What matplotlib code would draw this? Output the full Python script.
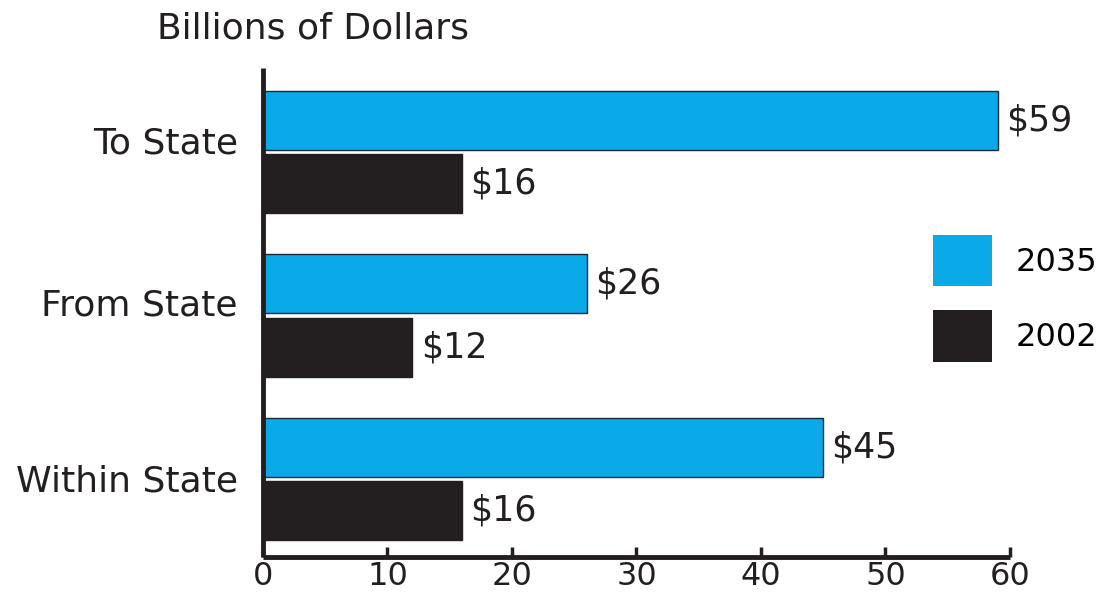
import numpy as np
import matplotlib
matplotlib.use('Agg')
import matplotlib.pyplot as plt
from matplotlib.patches import Patch
from matplotlib.transforms import ScaledTranslation

# freight value by flow direction, billions of dollars
categories = ['To State', 'From State', 'Within State']
values_2035 = [59, 26, 45]
values_2002 = [16, 12, 16]
series_names = ['2035', '2002']
x_ticks = [0, 10, 20, 30, 40, 50, 60]

BLUE = '#0AAAE8'
DARK = '#231F20'

plt.rcParams['font.family'] = ['DejaVu Sans']

fig = plt.figure(figsize=(11.05, 5.98), dpi=100)
ax = fig.add_axes([0.238, 0.0686, 0.676, 0.8177])

# top category drawn at the top
y = np.arange(len(categories))[::-1]
h = 0.36
off = 0.195

bars_new = ax.barh(y + off, values_2035, height=h, color=BLUE, edgecolor='#1a2a3a', linewidth=1)
bars_old = ax.barh(y - off, values_2002, height=h, color=DARK, edgecolor=DARK, linewidth=1)

for bars, vals in ((bars_new, values_2035), (bars_old, values_2002)):
    for b, v in zip(bars, vals):
        ax.annotate('$%d' % v, (v, b.get_y() + b.get_height() / 2),
                    xytext=(6, 0), textcoords='offset points',
                    ha='left', va='center', fontsize=25, color=DARK)

ax.set_xlim(0, 60)
ax.set_ylim(-0.477, 2.514)
ax.set_xticks(x_ticks)
ax.set_xticklabels([str(t) for t in x_ticks])
ax.set_yticks(y)
ax.set_yticklabels(categories)

for side in ('top', 'right'):
    ax.spines[side].set_visible(False)
for side in ('left', 'bottom'):
    ax.spines[side].set_linewidth(3.5)
    ax.spines[side].set_color(DARK)
    ax.spines[side].set_capstyle('butt')

ax.tick_params(axis='x', direction='in', length=7, width=2.5, colors=DARK,
               labelsize=23, pad=3)
ax.tick_params(axis='y', length=0, labelsize=26, pad=18, colors=DARK)

# nudge the category names up a little
for lbl, dy in zip(ax.get_yticklabels(), [9, 10, 1]):
    lbl.set_transform(lbl.get_transform() + ScaledTranslation(0, dy / 72, fig.dpi_scale_trans))

handles = [Patch(facecolor=BLUE, edgecolor='none'), Patch(facecolor=DARK, edgecolor='none')]
ax.legend(handles, series_names, loc='center left', bbox_to_anchor=(0.8445, 0.501),
          bbox_transform=fig.transFigure, frameon=False, fontsize=23,
          handlelength=1.85, handleheight=2.1, labelspacing=0.75, handletextpad=0.72,
          borderaxespad=0, borderpad=0)

fig.text(0.142, 0.953, 'Billions of Dollars', fontsize=26, color=DARK,
         ha='left', va='center')

fig.savefig('out.png', dpi=100, facecolor='white')
